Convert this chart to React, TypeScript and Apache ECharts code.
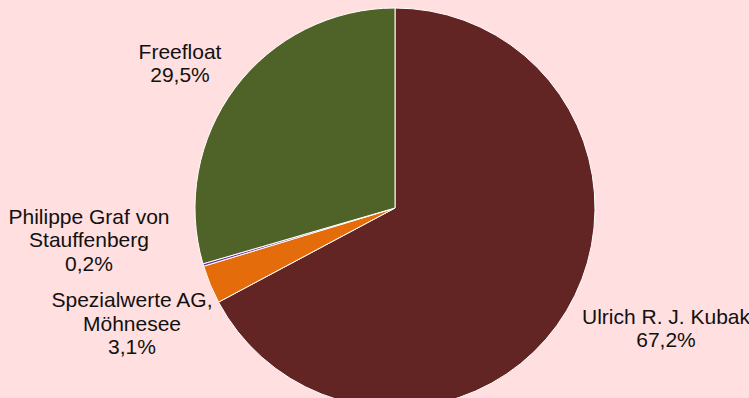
import React, { useEffect, useRef } from "react";
import * as echarts from "echarts";

const holders = [
  "Ulrich R. J. Kubak",
  "Spezialwerte AG,\nMöhnesee",
  "Philippe Graf von\nStauffenberg",
  "Freefloat",
];
const shares = [67.2, 3.1, 0.2, 29.5];
const colors = ["#632523", "#E46C0A", "#7030A0", "#4F6228"];

// label anchor points (centre of each label block), in pixels
const labelSpots = [
  { x: 666, y: 328 },
  { x: 132, y: 323 },
  { x: 89, y: 239.5 },
  { x: 180, y: 63 },
];

export default function App() {
  const ref = useRef<HTMLDivElement>(null);
  useEffect(() => {
    if (!ref.current) return;
    const chart = echarts.init(ref.current, null, { renderer: "svg" });
    chart.setOption({
      animation: false,
      backgroundColor: "#FFDFDF",
      series: [
        {
          type: "pie",
          center: [395, 208],
          radius: 200,
          startAngle: 90,
          clockwise: true,
          avoidLabelOverlap: false,
          itemStyle: { borderColor: "#FFFFFF", borderWidth: 1 },
          label: {
            show: true,
            position: "outside",
            fontFamily: "Liberation Sans, Arial, sans-serif",
            fontSize: 21,
            lineHeight: 23.5,
            color: "#111111",
            align: "center",
            formatter: (p: any) =>
              p.name + "\n" + String(p.value).replace(".", ",") + "%",
          },
          labelLine: { show: false },
          labelLayout: (p: any) => ({
            x: labelSpots[p.dataIndex].x,
            y: labelSpots[p.dataIndex].y,
            align: "center",
            verticalAlign: "middle",
          }),
          emphasis: { disabled: true },
          data: holders.map((n, i) => ({
            name: n,
            value: shares[i],
            itemStyle: { color: colors[i] },
          })),
        },
      ],
    });
    return () => chart.dispose();
  }, []);
  return (
    <div
      ref={ref}
      style={{ position: "fixed", left: 0, top: 0, width: 749, height: 398 }}
    />
  );
}
